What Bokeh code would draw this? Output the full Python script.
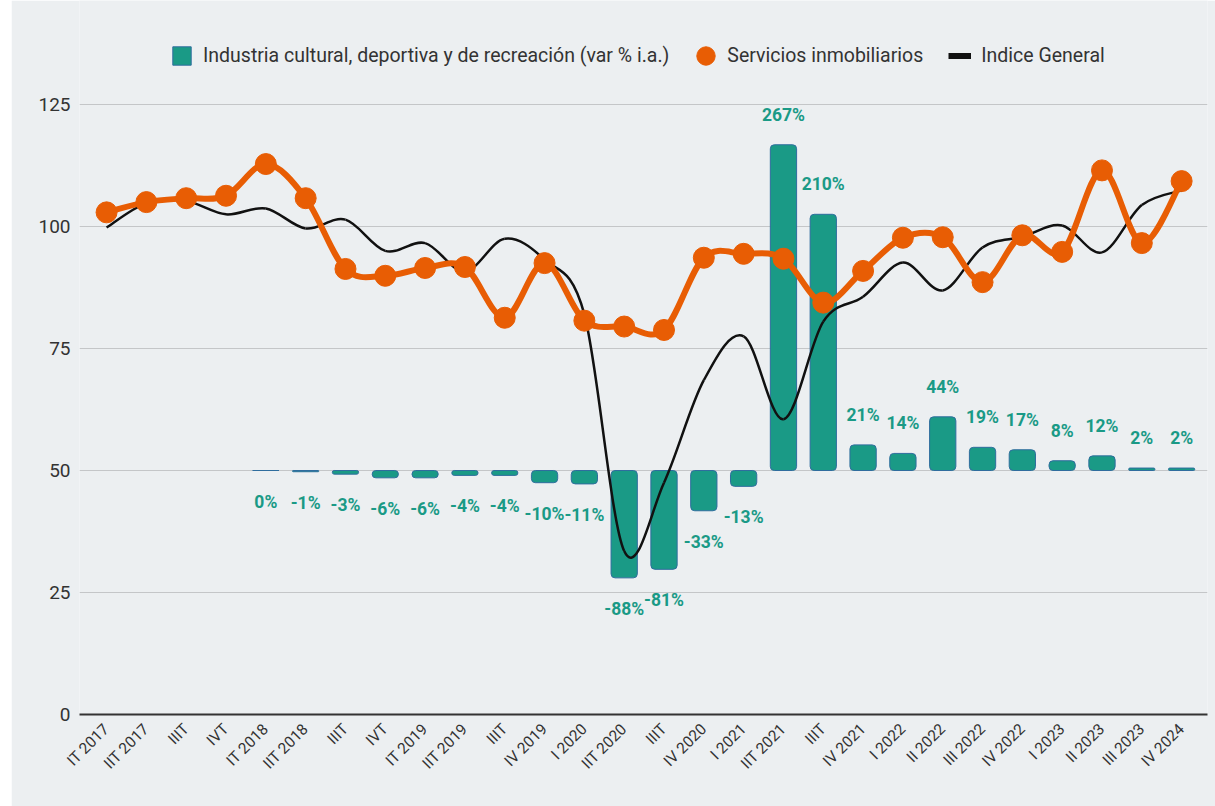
import math
import numpy as np
from bokeh.plotting import figure
from bokeh.layouts import row
from bokeh.models import Range1d, FixedTicker, ColumnDataSource, Legend, LegendItem, Spacer
from bokeh.core.properties import value
from bokeh.embed import file_html
from bokeh.resources import INLINE

# ---------------- data ----------------
quarters = ["IT 2017", "IIT 2017", "IIIT", "IVT", "IT 2018", "IIT 2018", "IIIT", "IVT",
            "IT 2019", "IIT 2019", "IIIT", "IV 2019", "I 2020", "IIT 2020", "IIIT", "IV 2020",
            "I 2021", "IIT 2021", "IIIT", "IV 2021", "I 2022", "II 2022", "III 2022", "IV 2022",
            "I 2023", "II 2023", "III 2023", "IV 2024"]

servicios_inmobiliarios = [102.9, 105.0, 105.8, 106.3, 112.8, 105.8, 91.3, 89.9,
                           91.5, 91.7, 81.3, 92.5, 80.7, 79.5, 78.8, 93.6,
                           94.4, 93.4, 84.4, 90.9, 97.7, 97.8, 88.6, 98.2,
                           94.8, 111.5, 96.6, 109.3]

indice_general = [99.8, 104.8, 105.2, 102.5, 103.7, 99.6, 101.4, 95.0,
                  96.6, 90.8, 97.5, 93.2, 82.0, 33.5, 47.5, 68.5,
                  77.5, 60.5, 80.5, 85.6, 92.6, 86.9, 95.7, 97.9,
                  100.2, 94.7, 104.4, 107.4]

# year-on-year % change; None = no bar
industria_var = [None, None, None, None, 0, -1, -3, -6,
                 -6, -4, -4, -10, -11, -88, -81, -33,
                 -13, 267, 210, 21, 14, 44, 19, 17,
                 8, 12, 2, 2]

y_ticks = [0, 25, 50, 75, 100, 125]

legend_labels = ["Industria cultural, deportiva y de recreación (var % i.a.)",
                 "Servicios inmobiliarios", "Indice General"]

# ---------------- styling / layout ----------------
BG = "#eceff1"
TEAL = "#1a9a86"
TEAL_EDGE = "#2f6d9e"
ORANGE = "#e85d04"
BLACK = "#111111"
FONT = "Roboto"

LEFT_GAP = 11
W = 1215 - LEFT_GAP
H = 806
MB = 92                       # frame bottom at y=714
FRAME_H = H - MB
PX_125 = 610                  # pixels between 0 and 125
Y_TOP = 125 * FRAME_H / PX_125   # frame extends up into the legend strip
PCT_LO = -200                 # bar scale: 0 % sits on 50, 4 % per unit
PCT_HI = PCT_LO + 4 * Y_TOP

p = figure(width=W, height=H, output_backend="svg", toolbar_location=None,
           x_range=Range1d(-0.68, 27.65), y_range=Range1d(0, Y_TOP),
           background_fill_color=BG, border_fill_color=BG,
           min_border_left=68, min_border_right=8, min_border_top=0, min_border_bottom=MB)
p.outline_line_color = None
p.extra_y_ranges = {"pct": Range1d(PCT_LO, PCT_HI)}

# axes
p.yaxis.ticker = FixedTicker(ticks=y_ticks)
p.yaxis.axis_line_color = None
p.yaxis.major_tick_line_color = None
p.yaxis.minor_tick_line_color = None
p.yaxis.major_tick_out = 0
p.yaxis.major_tick_in = 0
p.yaxis.minor_tick_out = 0
p.yaxis.major_label_text_font = FONT
p.yaxis.major_label_text_font_size = "19px"
p.yaxis.major_label_text_color = "#333333"
p.yaxis.major_label_standoff = 9

p.xaxis.ticker = FixedTicker(ticks=list(range(len(quarters))))
p.xaxis.major_label_overrides = {i: q for i, q in enumerate(quarters)}
p.xaxis.major_label_orientation = math.pi / 4
p.xaxis.axis_line_color = "#333333"
p.xaxis.axis_line_width = 2
p.xaxis.major_tick_line_color = None
p.xaxis.minor_tick_line_color = None
p.xaxis.major_tick_out = 0
p.xaxis.major_tick_in = 0
p.xaxis.minor_tick_out = 0
p.xaxis.major_label_text_font = FONT
p.xaxis.major_label_text_font_size = "15.5px"
p.xaxis.major_label_text_color = "#333333"
p.xaxis.major_label_standoff = 12

p.xgrid.grid_line_color = None
p.ygrid.grid_line_color = "#c4c6c8"
p.ygrid.grid_line_width = 1

# ---------------- bars ----------------
bx = [i for i, v in enumerate(industria_var) if v is not None]
bv = [v for v in industria_var if v is not None]
bar_src = ColumnDataSource(dict(x=bx, top=bv))
r_bar = p.vbar(x="x", top="top", bottom=0, width=0.66, source=bar_src, y_range_name="pct",
               fill_color=TEAL, line_color=TEAL_EDGE, line_width=1, border_radius=4)

pos_src = ColumnDataSource(dict(x=[x for x, v in zip(bx, bv) if v > 0],
                                y=[v for v in bv if v > 0],
                                t=[f"{v:.0f}%" for v in bv if v > 0]))
neg_src = ColumnDataSource(dict(x=[x for x, v in zip(bx, bv) if v <= 0],
                                y=[v for v in bv if v <= 0],
                                t=[f"{v:.0f}%" for v in bv if v <= 0]))


# ---------------- smooth curves (cardinal spline drawn as Bezier segments) ----------------
def bezier_source(ys):
    xs = np.arange(len(ys), dtype=float)
    ys = np.asarray(ys, dtype=float)
    n = len(ys)
    d = dict(x0=[], y0=[], x1=[], y1=[], cx0=[], cy0=[], cx1=[], cy1=[])
    for i in range(n - 1):
        i0 = max(i - 1, 0)
        i3 = min(i + 2, n - 1)
        d["x0"].append(xs[i]); d["y0"].append(ys[i])
        d["x1"].append(xs[i + 1]); d["y1"].append(ys[i + 1])
        d["cx0"].append(xs[i] + (xs[i + 1] - xs[i0]) / 6)
        d["cy0"].append(ys[i] + (ys[i + 1] - ys[i0]) / 6)
        d["cx1"].append(xs[i + 1] - (xs[i3] - xs[i]) / 6)
        d["cy1"].append(ys[i + 1] - (ys[i3] - ys[i]) / 6)
    return ColumnDataSource(d)


p.bezier(x0="x0", y0="y0", x1="x1", y1="y1", cx0="cx0", cy0="cy0", cx1="cx1", cy1="cy1",
         source=bezier_source(indice_general), line_color=BLACK, line_width=2.5)

p.bezier(x0="x0", y0="y0", x1="x1", y1="y1", cx0="cx0", cy0="cy0", cx1="cx1", cy1="cy1",
         source=bezier_source(servicios_inmobiliarios), line_color=ORANGE, line_width=6)
p.scatter(x=list(range(len(servicios_inmobiliarios))), y=servicios_inmobiliarios,
          size=21, marker="circle", fill_color=ORANGE, line_color=ORANGE)

# bar value labels
p.text(x="x", y="y", text="t", source=pos_src, y_range_name="pct", y_offset=-30,
       text_align="center", text_baseline="middle", text_color=TEAL,
       text_font=value(FONT), text_font_style="bold", text_font_size="17.5px")
p.text(x="x", y="y", text="t", source=neg_src, y_range_name="pct", y_offset=31,
       text_align="center", text_baseline="middle", text_color=TEAL,
       text_font=value(FONT), text_font_style="bold", text_font_size="17.5px")

# ---------------- legend (inside the upper strip of the frame) ----------------
nan = float("nan")
r_orange = p.ellipse(x=[nan], y=[nan], width=10, height=10,
                     width_units="screen", height_units="screen",
                     fill_color=ORANGE, line_color=ORANGE)
r_black = p.line(x=[nan], y=[nan], line_color=BLACK, line_width=6)

legend = Legend(items=[LegendItem(label=legend_labels[0], renderers=[r_bar]),
                       LegendItem(label=legend_labels[1], renderers=[r_orange]),
                       LegendItem(label=legend_labels[2], renderers=[r_black])],
                orientation="horizontal", location=(91, FRAME_H - 67))
legend.background_fill_alpha = 0
legend.border_line_color = None
legend.label_text_font = FONT
legend.label_text_font_size = "19.5px"
legend.label_text_color = "#333333"
legend.glyph_width = 23
legend.glyph_height = 23
legend.label_standoff = 10
legend.spacing = 25
legend.padding = 0
legend.margin = 0
p.add_layout(legend, "center")

layout = row(Spacer(width=LEFT_GAP, height=H), p, spacing=0)

open("out.html", "w").write(file_html(layout, INLINE))
